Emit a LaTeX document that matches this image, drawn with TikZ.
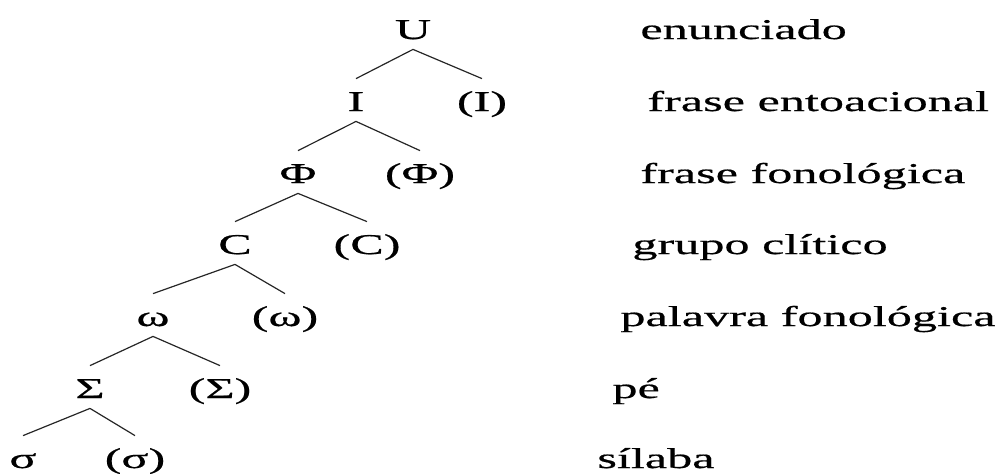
\documentclass[tikz,border=0pt]{standalone}
\usepackage{fontspec}
\setmainfont{Liberation Serif}[FakeStretch=1.75, FakeBold=0.6]
\usetikzlibrary{positioning}
\tikzset{
  unit1/.style = {
    anchor = base,
    text height = 11pt,
    text depth = 0pt,
    inner xsep = 0pt,
    inner ysep = 5pt,
    font = \fontsize{14.35pt}{17pt}\selectfont,
  }
}
\tikzset{
  label1/.style = {
    anchor = base west,
    inner sep = 0pt,
    font = \fontsize{14.35pt}{17pt}\selectfont,
  }
}
\tikzset{
  branch1/.style = {
    draw = black!85, line width = 0.6pt,
  }
}

\begin{document}
\begin{tikzpicture}[x=0.5pt, y=-0.5pt]
        \useasboundingbox (0,0) rectangle (1004,473);
        \node[unit1](U) at (413,39){U};
        \node[unit1](I) at (356,111){I};
        \node[unit1](pI) at (482,111){(I)};
        \node[unit1](Phi) at (298,183){Φ};
        \node[unit1](pPhi) at (420,183){(Φ)};
        \node[unit1](C) at (235,254){C};
        \node[unit1](pC) at (367,254){(C)};
        \node[unit1](w) at (153,326){ω};
        \node[unit1](pw) at (285,326){(ω)};
        \node[unit1](S) at (90,398){Σ};
        \node[unit1](pS) at (220,398){(Σ)};
        \node[unit1](s) at (23,468){σ};
        \node[unit1](ps) at (135,468){(σ)};
        \node[label1](1) at (640,39){enunciado};
        \node[label1](2) at (647,111){frase entoacional};
        \node[label1](3) at (640,183){frase fonológica};
        \node[label1](4) at (632,254){grupo clítico};
        \node[label1](5) at (620,326){palavra fonológica};
        \node[label1](6) at (612,398){pé};
        \node[label1](7) at (597,468){sílaba};
        \foreach \a/\b/\c in {U/I/pI, I/Phi/pPhi, Phi/C/pC, C/w/pw, w/S/pS, S/s/ps}
          \draw[branch1](\a.south) -- (\b.north) (\a.south) -- (\c.north);
    \end{tikzpicture}
\end{document}
